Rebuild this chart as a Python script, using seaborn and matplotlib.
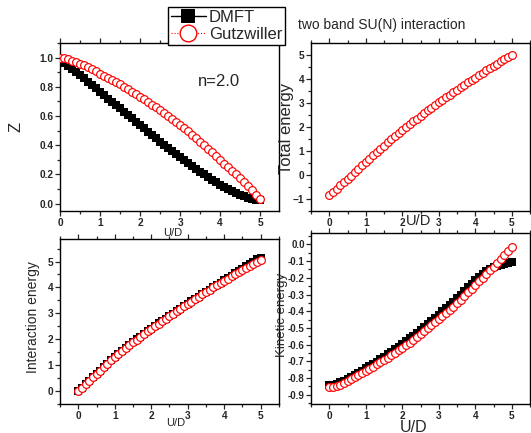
import numpy as np
import matplotlib
matplotlib.use("Agg")
import matplotlib.pyplot as plt
from matplotlib.lines import Line2D
from matplotlib.ticker import MultipleLocator, FormatStrFormatter
import seaborn as sns

# U/D grid, 0 .. 5 in steps of 0.1
u = np.linspace(0, 5, 51)

z_dmft = [0.980, 0.962, 0.941, 0.921, 0.900, 0.880, 0.857, 0.835, 0.812, 0.789,
          0.766, 0.743, 0.720, 0.698, 0.675, 0.652, 0.629, 0.607, 0.584, 0.562,
          0.539, 0.516, 0.493, 0.471, 0.448, 0.425, 0.404, 0.384, 0.363, 0.343,
          0.323, 0.302, 0.281, 0.261, 0.240, 0.220, 0.201, 0.183, 0.165, 0.147,
          0.130, 0.115, 0.101, 0.087, 0.074, 0.061, 0.050, 0.041, 0.034, 0.028,
          0.023]
z_gutz = [1.000, 0.995, 0.988, 0.980, 0.970, 0.959, 0.947, 0.934, 0.920, 0.906,
          0.891, 0.876, 0.861, 0.846, 0.831, 0.816, 0.800, 0.783, 0.766, 0.749,
          0.732, 0.714, 0.696, 0.678, 0.660, 0.641, 0.621, 0.601, 0.581, 0.560,
          0.539, 0.517, 0.495, 0.472, 0.449, 0.425, 0.401, 0.377, 0.352, 0.326,
          0.300, 0.275, 0.250, 0.225, 0.200, 0.175, 0.148, 0.120, 0.092, 0.062,
          0.032]

etot_gutz = [-0.84, -0.71, -0.58, -0.44, -0.31, -0.17, -0.03, 0.11, 0.26, 0.40,
             0.54, 0.68, 0.82, 0.95, 1.09, 1.22, 1.35, 1.48, 1.61, 1.73,
             1.86, 1.98, 2.10, 2.22, 2.33, 2.45, 2.56, 2.68, 2.79, 2.90,
             3.01, 3.12, 3.22, 3.33, 3.43, 3.54, 3.64, 3.74, 3.84, 3.94,
             4.04, 4.14, 4.24, 4.34, 4.43, 4.53, 4.62, 4.72, 4.81, 4.91,
             5.00]

eint_dmft = [0.00, 0.13, 0.27, 0.40, 0.53, 0.66, 0.79, 0.92, 1.05, 1.18,
             1.31, 1.43, 1.55, 1.67, 1.78, 1.89, 2.00, 2.10, 2.21, 2.31,
             2.41, 2.51, 2.61, 2.71, 2.80, 2.90, 2.99, 3.09, 3.18, 3.28,
             3.37, 3.46, 3.55, 3.65, 3.74, 3.83, 3.92, 4.01, 4.10, 4.19,
             4.28, 4.37, 4.46, 4.55, 4.64, 4.73, 4.82, 4.91, 4.99, 5.08,
             5.15]
eint_gutz = [0.00, 0.13, 0.27, 0.40, 0.53, 0.66, 0.79, 0.92, 1.05, 1.18,
             1.31, 1.43, 1.54, 1.66, 1.77, 1.88, 1.99, 2.09, 2.20, 2.30,
             2.40, 2.50, 2.60, 2.70, 2.79, 2.89, 2.98, 3.08, 3.17, 3.27,
             3.36, 3.45, 3.54, 3.64, 3.73, 3.82, 3.91, 4.00, 4.09, 4.17,
             4.26, 4.34, 4.43, 4.51, 4.59, 4.67, 4.75, 4.83, 4.90, 4.98,
             5.05]

ekin_dmft = [-0.843, -0.840, -0.834, -0.826, -0.815, -0.803, -0.791, -0.779, -0.767, -0.755,
             -0.742, -0.729, -0.715, -0.701, -0.687, -0.673, -0.658, -0.643, -0.628, -0.612,
             -0.597, -0.580, -0.563, -0.546, -0.529, -0.511, -0.493, -0.475, -0.457, -0.439,
             -0.420, -0.401, -0.381, -0.362, -0.342, -0.322, -0.301, -0.280, -0.258, -0.236,
             -0.214, -0.194, -0.176, -0.160, -0.148, -0.138, -0.130, -0.123, -0.117, -0.111,
             -0.106]
ekin_gutz = [-0.855, -0.853, -0.848, -0.840, -0.829, -0.815, -0.804, -0.792, -0.780, -0.769,
             -0.757, -0.744, -0.731, -0.718, -0.704, -0.691, -0.677, -0.663, -0.649, -0.634,
             -0.620, -0.604, -0.588, -0.571, -0.555, -0.538, -0.520, -0.502, -0.484, -0.466,
             -0.448, -0.429, -0.410, -0.391, -0.372, -0.353, -0.331, -0.309, -0.287, -0.265,
             -0.243, -0.221, -0.199, -0.177, -0.155, -0.133, -0.110, -0.087, -0.064, -0.041,
             -0.018]

sns.set_style("ticks")
plt.rcParams['font.family'] = ['Liberation Sans', 'DejaVu Sans']

W, H = 531, 433
fig = plt.figure(figsize=(W / 100, H / 100), dpi=100)


def px(x, y):
    return x / W, 1 - y / H


def make_ax(l, r, t, b):
    return fig.add_axes([l / W, 1 - b / H, (r - l) / W, (b - t) / H])


def style(ax, xlim, ylim, ymaj, ymin, yfmt=None):
    ax.set_xlim(*xlim)
    ax.set_ylim(*ylim)
    ax.xaxis.set_major_locator(MultipleLocator(1))
    ax.xaxis.set_minor_locator(MultipleLocator(0.5))
    ax.yaxis.set_major_locator(MultipleLocator(ymaj))
    ax.yaxis.set_minor_locator(MultipleLocator(ymin))
    if yfmt:
        ax.yaxis.set_major_formatter(FormatStrFormatter(yfmt))
    ax.tick_params(which='both', direction='out', top=True, right=False,
                   labelsize=7.3, width=0.9, pad=1.2)
    ax.tick_params(which='major', length=3.5)
    ax.tick_params(which='minor', length=2)
    for lab in ax.get_xticklabels() + ax.get_yticklabels():
        lab.set_fontweight('bold')
    for s in ax.spines.values():
        s.set_linewidth(1.0)
        s.set_color('k')
    ax.set_xlabel('')
    ax.set_ylabel('')


def draw(ax, y, kind):
    if kind == 'dmft':
        sns.lineplot(x=u, y=y, ax=ax, color='k', linewidth=1, marker='s',
                     markersize=5.4, markeredgewidth=0, markeredgecolor='k',
                     zorder=2)
    else:
        sns.lineplot(x=u, y=y, ax=ax, color='red', linewidth=0.7, linestyle=':',
                     marker='o', markersize=5.6, markerfacecolor='white',
                     markeredgecolor='red', markeredgewidth=0.85, zorder=3)


ax1 = make_ax(60, 279, 43, 211)
ax2 = make_ax(311, 530, 43, 211)
ax3 = make_ax(60, 279, 239, 404)
ax4 = make_ax(311, 530, 233, 404)

draw(ax1, z_dmft, 'dmft')
draw(ax1, z_gutz, 'gutz')
style(ax1, (0, 5.47), (-0.05, 1.1), 0.2, 0.1, '%.1f')

draw(ax2, etot_gutz, 'gutz')
style(ax2, (-0.5, 5.5), (-1.5, 5.48), 1, 0.5)

draw(ax3, eint_dmft, 'dmft')
draw(ax3, eint_gutz, 'gutz')
style(ax3, (-0.5, 5.5), (-0.5, 5.87), 1, 0.5)

draw(ax4, ekin_dmft, 'dmft')
draw(ax4, ekin_gutz, 'gutz')
style(ax4, (-0.5, 5.5), (-0.955, 0.068), 0.1, 0.05, '%.1f')
ax4.tick_params(axis='y', labelsize=7, pad=1)

# axis labels and annotations
fig.text(*px(16, 127), 'Z', rotation=90, fontsize=12, ha='center', va='center')
fig.text(*px(173, 232.5), 'U/D', fontsize=8, ha='center', va='center')
fig.text(*px(219, 82), 'n=2.0', fontsize=12, ha='center', va='center')
fig.text(*px(298, 25), 'two band SU(N) interaction', fontsize=10, ha='left', va='center')
fig.text(*px(286, 128), 'Total energy', rotation=90, fontsize=12, ha='center', va='center')
fig.text(*px(419, 221), 'U/D', fontsize=10.5, ha='center', va='center')
fig.text(*px(33, 317), 'Interaction energy', rotation=90, fontsize=10, ha='center', va='center')
fig.text(*px(176, 423), 'U/D', fontsize=8, ha='center', va='center')
fig.text(*px(282, 315), 'Kinetic energy', rotation=90, fontsize=9.5, ha='center', va='center')
fig.text(*px(414, 427), 'U/D', fontsize=11.5, ha='center', va='center')

handles = [
    Line2D([], [], color='k', lw=1, marker='s', markersize=9.5, markeredgewidth=0),
    Line2D([], [], color='red', lw=0.8, ls=':', marker='o', markersize=12,
           markerfacecolor='white', markeredgecolor='red', markeredgewidth=1),
]
leg = fig.legend(handles, ['DMFT', 'Gutzwiller'], loc='upper left',
                 bbox_to_anchor=px(168, 7), fontsize=12, frameon=True,
                 fancybox=False, framealpha=1, edgecolor='k',
                 handlelength=2.1, handletextpad=0.2, borderpad=0.15,
                 labelspacing=0.15, borderaxespad=0)
leg.get_frame().set_linewidth(1.0)

fig.savefig('out.png', dpi=100)
